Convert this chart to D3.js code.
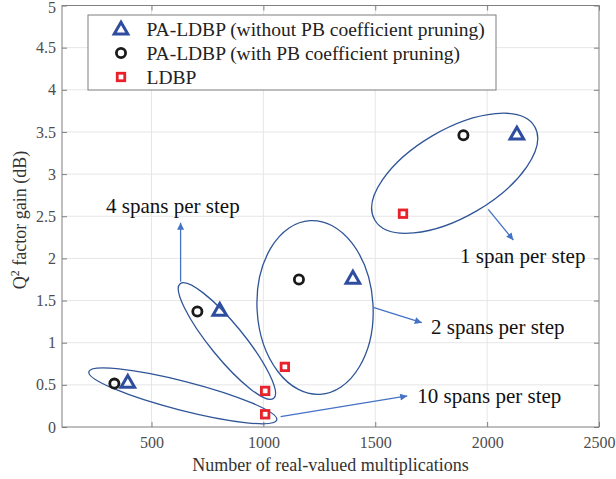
<!DOCTYPE html>
<html>
<head>
<meta charset="utf-8">
<script src="https://cdn.jsdelivr.net/npm/d3@7"></script>
<style>
  body { margin: 0; background: #fff; }
  text { font-family: "Liberation Serif", "Times New Roman", serif; }
</style>
</head>
<body>
<div id="chart"></div>
<script>
// values
var xTicks = [500, 1000, 1500, 2000, 2500];
var yTicks = [0, 0.5, 1, 1.5, 2, 2.5, 3, 3.5, 4, 4.5, 5];

var triX = [394, 805, 1400, 2133];
var triY = [0.53, 1.385, 1.765, 3.475];
var cirX = [334, 705, 1159, 1894];
var cirY = [0.515, 1.37, 1.75, 3.46];
var sqX = [1008, 1008, 1096, 1624];
var sqY = [0.428, 0.151, 0.713, 2.53];

var seriesNames = ['PA-LDBP (without PB coefficient pruning)',
                   'PA-LDBP (with PB coefficient pruning)',
                   'LDBP'];

// group ellipses: centre in data units, radii px, rotation deg
var groups = [
  {cx: 640, cy: 0.37, rx: 97, ry: 14.5, rot: 14.4},
  {cx: 837, cy: 1.02, rx: 74, ry: 17, rot: 50.8},
  {cx: 1231, cy: 1.418, rx: 58, ry: 87, rot: -3.3},
  {cx: 1855, cy: 3.01, rx: 92.6, ry: 43.6, rot: -30.3}
];

var notes = [
  {text: '10 spans per step', x: 1688, y: 0.281, ax1: 1077, ay1: 0.122, ax2: 1643, ay2: 0.368},
  {text: '4 spans per step', x: 297, y: 2.542, ax1: 630, ay1: 1.724, ax2: 630, ay2: 2.424},
  {text: '2 spans per step', x: 1749, y: 1.103, ax1: 1491, ay1: 1.42, ax2: 1708, ay2: 1.237},
  {text: '1 span per step', x: 1879, y: 1.949, ax1: 2005, ay1: 2.582, ax2: 2117, ay2: 2.218}
];

var W = 616, H = 479;
var L = 62, R = 599, T = 5.5, B = 427;

var svg = d3.select('#chart').append('svg')
            .attr('width', W)
            .attr('height', H);

var x = d3.scaleLinear().domain([100, 2500]).range([L, R]);
var y = d3.scaleLinear().domain([0, 5]).range([B, T]);

svg.append('defs').append('marker')
   .attr('id', 'head')
   .attr('viewBox', '0 0 10 10')
   .attr('refX', 10).attr('refY', 5)
   .attr('markerWidth', 9).attr('markerHeight', 7)
   .attr('markerUnits', 'userSpaceOnUse')
   .attr('orient', 'auto')
   .append('path')
   .attr('d', 'M0,0 L10,5 L0,10 z')
   .attr('fill', '#4472c4');

// grid
svg.append('g').selectAll('line')
   .data(xTicks.slice(0, -1))
   .enter().append('line')
   .attr('x1', d => x(d)).attr('x2', d => x(d))
   .attr('y1', T).attr('y2', B)
   .attr('stroke', '#e6e6e6');

svg.append('g').selectAll('line')
   .data(yTicks.slice(1, -1))
   .enter().append('line')
   .attr('x1', L).attr('x2', R)
   .attr('y1', d => y(d)).attr('y2', d => y(d))
   .attr('stroke', '#e6e6e6');

// axes, ticks inward like matlab
var tickCol = '#7f7f7f';
var gx = svg.append('g').attr('transform', 'translate(0,' + B + ')')
            .call(d3.axisBottom(x).tickValues(xTicks).tickFormat(d3.format('d'))
                    .tickSizeInner(-5).tickSizeOuter(0).tickPadding(10));
var gy = svg.append('g').attr('transform', 'translate(' + L + ',0)')
            .call(d3.axisLeft(y).tickValues(yTicks).tickFormat(d3.format(''))
                    .tickSizeInner(-5).tickSizeOuter(0).tickPadding(6));
svg.append('g').attr('transform', 'translate(0,' + T + ')')
   .call(d3.axisTop(x).tickValues(xTicks).tickSizeInner(-5).tickSizeOuter(0).tickFormat(''));
svg.append('g').attr('transform', 'translate(' + R + ',0)')
   .call(d3.axisRight(y).tickValues(yTicks).tickSizeInner(-5).tickSizeOuter(0).tickFormat(''));

svg.selectAll('.domain').remove();
svg.selectAll('.tick line').attr('stroke', tickCol);
svg.selectAll('.tick text')
   .attr('fill', '#4d4d4d')
   .style('font-size', '16px')
   .style('font-family', '"Liberation Serif", serif');
// top label sits on the edge, nudge it in
gy.selectAll('.tick text').filter(d => d === 5).attr('dy', '0.45em');

svg.append('rect')
   .attr('x', L).attr('y', T)
   .attr('width', R - L).attr('height', B - T)
   .attr('fill', 'none')
   .attr('stroke', tickCol);

// axis labels
svg.append('text')
   .attr('x', (L + R) / 2).attr('y', 471)
   .attr('text-anchor', 'middle')
   .attr('fill', '#333')
   .style('font-size', '18px')
   .text('Number of real-valued multiplications');

var yl = svg.append('text')
   .attr('transform', 'translate(26,220) rotate(-90)')
   .attr('text-anchor', 'middle')
   .attr('fill', '#333')
   .style('font-size', '18px');
yl.append('tspan').text('Q');
yl.append('tspan').attr('dy', -7).style('font-size', '12px').text('2');
yl.append('tspan').attr('dy', 7).text(' factor gain (dB)');

// ellipses
svg.append('g').selectAll('ellipse')
   .data(groups)
   .enter().append('ellipse')
   .attr('transform', d => 'translate(' + x(d.cx) + ',' + y(d.cy) + ') rotate(' + d.rot + ')')
   .attr('rx', d => d.rx).attr('ry', d => d.ry)
   .attr('fill', 'none')
   .attr('stroke', '#2f5597')
   .attr('stroke-width', 1.3);

// arrows + notes
svg.append('g').selectAll('line')
   .data(notes)
   .enter().append('line')
   .attr('x1', d => x(d.ax1)).attr('y1', d => y(d.ay1))
   .attr('x2', d => x(d.ax2)).attr('y2', d => y(d.ay2))
   .attr('stroke', '#4472c4')
   .attr('stroke-width', 1.3)
   .attr('marker-end', 'url(#head)');

svg.append('g').selectAll('text')
   .data(notes)
   .enter().append('text')
   .attr('x', d => x(d.x)).attr('y', d => y(d.y))
   .attr('fill', '#111')
   .style('font-size', '21px')
   .text(d => d.text);

// markers
var triPts = d3.zip(triX, triY);
var cirPts = d3.zip(cirX, cirY);
var sqPts = d3.zip(sqX, sqY);

var triSym = d3.symbol().type(d3.symbolTriangle).size(80);

function drawTri(sel) {
  sel.attr('d', triSym)
     .attr('fill', 'none')
     .attr('stroke', '#2e4d9e')
     .attr('stroke-width', 3)
     .attr('stroke-linejoin', 'miter');
}
function drawCir(sel) {
  sel.attr('r', 4.6)
     .attr('fill', 'none')
     .attr('stroke', '#1a1a1a')
     .attr('stroke-width', 2.8);
}
function drawSq(sel) {
  sel.attr('width', 7.5).attr('height', 7.5)
     .attr('fill', 'none')
     .attr('stroke', '#e8212b')
     .attr('stroke-width', 2.8);
}

svg.append('g').selectAll('path')
   .data(triPts).enter().append('path')
   .attr('transform', d => 'translate(' + x(d[0]) + ',' + (y(d[1]) + 1) + ')')
   .call(drawTri);
svg.append('g').selectAll('circle')
   .data(cirPts).enter().append('circle')
   .attr('cx', d => x(d[0])).attr('cy', d => y(d[1]))
   .call(drawCir);
svg.append('g').selectAll('rect')
   .data(sqPts).enter().append('rect')
   .attr('x', d => x(d[0]) - 3.75).attr('y', d => y(d[1]) - 3.75)
   .call(drawSq);

// legend
var lg = svg.append('g');
lg.append('rect')
  .attr('x', 88).attr('y', 15)
  .attr('width', 408).attr('height', 75)
  .attr('fill', '#fff')
  .attr('stroke', '#7f7f7f');

var rowY = [29, 53, 77];
lg.selectAll('text')
  .data(seriesNames).enter().append('text')
  .attr('x', 146.5).attr('y', (d, i) => rowY[i] + 6.5)
  .attr('fill', '#222')
  .style('font-size', '19.5px')
  .text(d => d);

lg.append('path').attr('transform', 'translate(121,' + (rowY[0] + 1) + ')').call(drawTri);
lg.append('circle').attr('cx', 121).attr('cy', rowY[1]).call(drawCir);
lg.append('rect').attr('x', 121 - 3.75).attr('y', rowY[2] - 3.75).call(drawSq);
</script>
</body>
</html>
